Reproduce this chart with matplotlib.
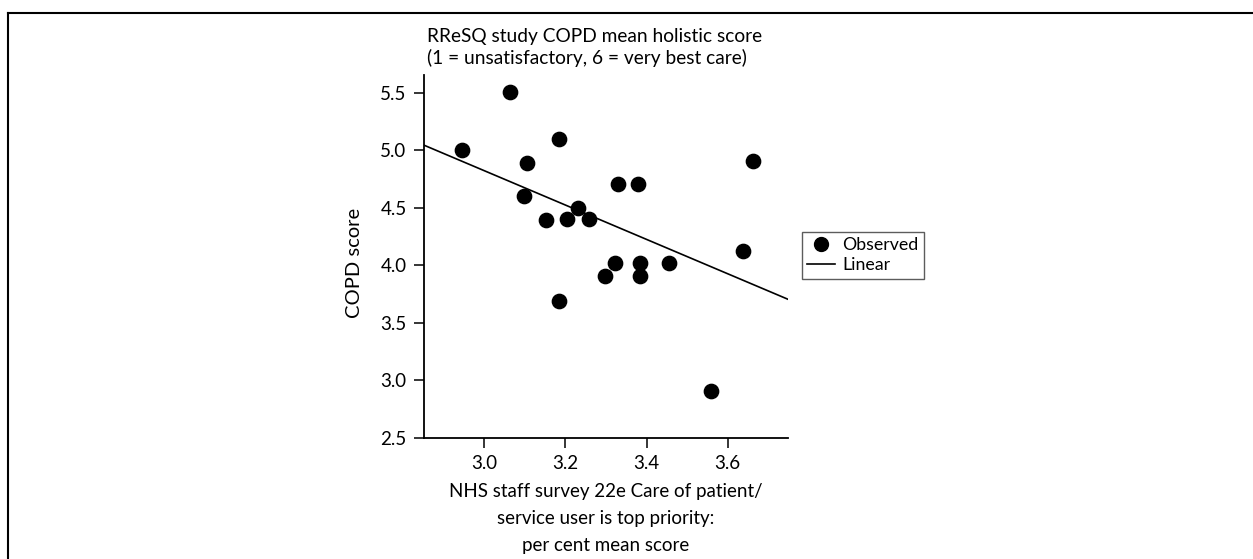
import numpy as np
import matplotlib
matplotlib.use("Agg")
import matplotlib.pyplot as plt
from matplotlib.lines import Line2D

plt.rcParams['font.family'] = ['Lato', 'DejaVu Sans']

# Data
nhs_score = [2.944, 3.063, 3.184, 3.105, 3.098, 3.152, 3.203, 3.232, 3.257, 3.330,
             3.379, 3.662, 3.639, 3.455, 3.321, 3.298, 3.385, 3.385, 3.183, 3.560]
copd_score = [5.00, 5.51, 5.10, 4.89, 4.60, 4.39, 4.40, 4.50, 4.40, 4.71,
              4.71, 4.91, 4.12, 4.02, 4.02, 3.91, 4.02, 3.91, 3.69, 2.91]
x_ticks = [3.0, 3.2, 3.4, 3.6]
y_ticks = [2.5, 3.0, 3.5, 4.0, 4.5, 5.0, 5.5]
title_text = "RReSQ study COPD mean holistic score\n(1 = unsatisfactory, 6 = very best care)"
x_label = "NHS staff survey 22e Care of patient/\nservice user is top priority:\nper cent mean score"
y_label = "COPD score"
legend_labels = ["Observed", "Linear"]

W, H = 1253, 559
fig = plt.figure(figsize=(W / 100, H / 100), dpi=100)
ax = fig.add_axes([424 / W, 121.3 / H, (788 - 424) / W, (484 - 121.3) / H])

xlim = (2.851, 3.749)
ylim = (2.5, 5.654)

ax.plot(nhs_score, copd_score, 'o', color='black', ms=10.3, ls='none',
        label=legend_labels[0], clip_on=False)
coef = np.polyfit(nhs_score, copd_score, 1)
xl = np.array(xlim)
ax.plot(xl, np.polyval(coef, xl), color='black', lw=1.2, label=legend_labels[1])

ax.set_xlim(*xlim)
ax.set_ylim(*ylim)
ax.set_xticks(x_ticks)
ax.set_xticklabels([f"{v:.1f}" for v in x_ticks])
ax.set_yticks(y_ticks)
ax.set_yticklabels([f"{v:.1f}" for v in y_ticks])
for s in ['top', 'right']:
    ax.spines[s].set_visible(False)
for s in ['left', 'bottom']:
    ax.spines[s].set_linewidth(1.3)
ax.tick_params(axis='both', direction='out', length=7.5, width=1.1, labelsize=13.5, pad=5)

ax.set_xlabel(x_label, fontsize=13.5, linespacing=1.7, labelpad=8)
fig.text(355 / W, 1 - 263 / H, y_label, rotation=90, fontsize=14.5,
         ha='center', va='center')
fig.text(427 / W, 1 - 28 / H, title_text, fontsize=13.8, ha='left', va='top',
         linespacing=1.25)

handles = [Line2D([], [], marker='o', color='black', ls='none', ms=10),
           Line2D([], [], color='black', lw=1.2)]
leg = fig.legend(handles, legend_labels, loc='upper left',
                 bbox_to_anchor=(801.7 / W, 1 - 231.7 / H), fontsize=12.8,
                 frameon=True, fancybox=False, edgecolor='#333333',
                 handlelength=1.6, handletextpad=0.4, borderpad=0.3,
                 labelspacing=0.25, borderaxespad=0)
leg.get_frame().set_linewidth(1.0)

# outer frame
fig.add_artist(Line2D([8 / W, 8 / W], [0, 1 - 13 / H], color='black', lw=1.5,
                      transform=fig.transFigure))
fig.add_artist(Line2D([8 / W, 1.0], [1 - 13 / H, 1 - 13 / H], color='black', lw=1.5,
                      transform=fig.transFigure))

fig.savefig("out.png", dpi=100)
